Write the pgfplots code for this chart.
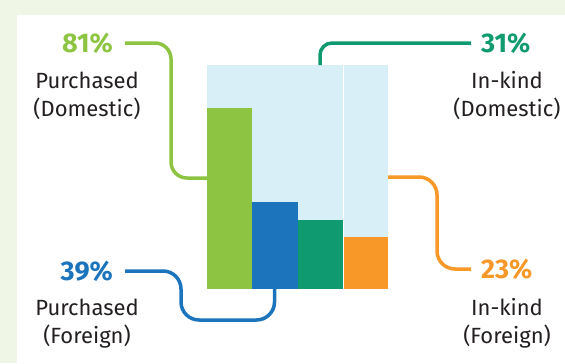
\documentclass[border=0pt]{standalone}
\usepackage{pgfplots}
\pgfplotsset{compat=1.18}
\usepackage{fontspec}
\setmainfont{Fira Sans}
\definecolor{bgout}{HTML}{EFF6E6}
\definecolor{lb}{HTML}{D9EFF8}
\definecolor{cgreen}{HTML}{8DC442}
\definecolor{cblue}{HTML}{1C75BC}
\definecolor{cteal}{HTML}{109A70}
\definecolor{corange}{HTML}{F79829}
\definecolor{txt}{HTML}{231F20}
\begin{document}
\begin{tikzpicture}[x=1bp,y=1bp]
\fill[bgout] (0,0) rectangle (565,363);
\fill[white] (17,0) rectangle (565,348);
\begin{axis}[at={(207bp,74bp)}, anchor=south west, scale only axis,
  width=181bp, height=224bp, xmin=0, xmax=4, ymin=0, ymax=100,
  hide axis, ybar, bar shift=0pt, clip=false]
\addplot[fill=lb, draw=none, bar width=3] coordinates {(1.5,100)};
\addplot[fill=lb, draw=none, bar width=0.978] coordinates {(3.511,100)};
\addplot[fill=cgreen, draw=none, bar width=1] coordinates {(0.5,81)};
\addplot[fill=cblue, draw=none, bar width=1] coordinates {(1.5,39)};
\addplot[fill=cteal, draw=none, bar width=1] coordinates {(2.5,31)};
\addplot[fill=corange, draw=none, bar width=0.978] coordinates {(3.511,23)};
\end{axis}
% leader lines
\draw[cgreen, line width=3.5bp, rounded corners=16bp] (125,320) -- (171,320) -- (171,185) -- (207,185);
\draw[cteal, line width=3.5bp, rounded corners=12bp] (320,298) -- (320,320) -- (471,320);
\draw[cblue, line width=3.5bp, rounded corners=18bp] (125,92) -- (181,92) -- (181,43) -- (274.5,43) -- (274.5,74);
\draw[corange, line width=3.5bp, rounded corners=18bp] (388,186) -- (437,186) -- (437,94) -- (471,94);
% labels
\begin{scope}[font=\fontsize{27bp}{32bp}\selectfont\bfseries]
\node[anchor=east, inner sep=0, text=cgreen] at (113,320) {81\%};
\node[anchor=west, inner sep=0, text=cteal] at (481,320) {31\%};
\node[anchor=east, inner sep=0, text=cblue] at (113,92) {39\%};
\node[anchor=west, inner sep=0, text=corange] at (481,94) {23\%};
\end{scope}
\begin{scope}[font=\fontsize{22bp}{28bp}\selectfont, text=txt, align=center, inner sep=0]
\node at (87,267) {Purchased\\(Domestic)};
\node at (87,39.5) {Purchased\\(Foreign)};
\node at (507,267) {In-kind\\(Domestic)};
\node at (507,39.5) {In-kind\\(Foreign)};
\end{scope}
\end{tikzpicture}
\end{document}
